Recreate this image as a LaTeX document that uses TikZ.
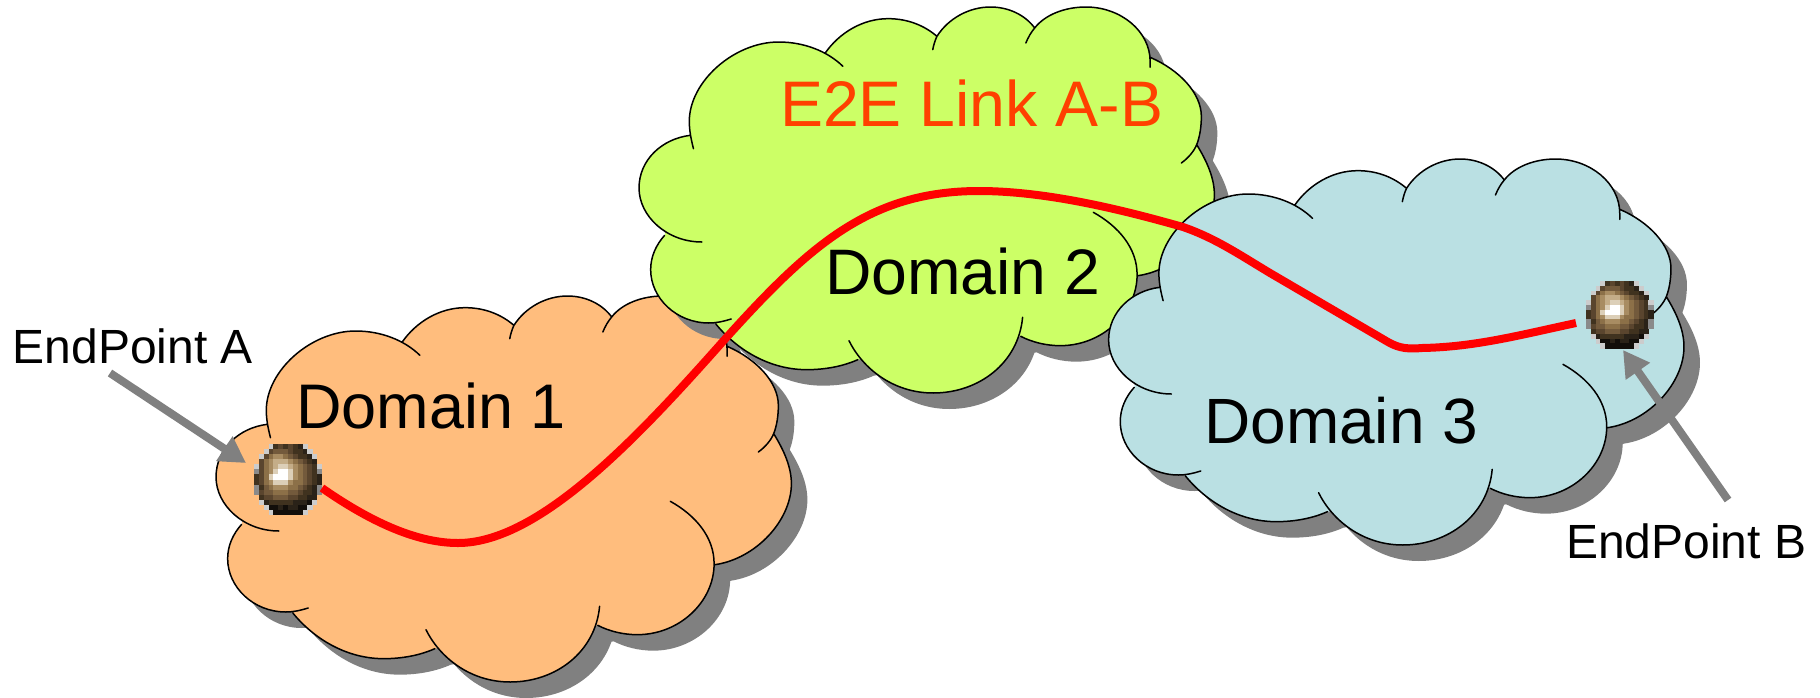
\documentclass[tikz,border=0pt]{standalone}
\usepackage{fontspec}
\setmainfont{Liberation Sans}
\usetikzlibrary{arrows.meta}
\definecolor{orangecloud}{HTML}{FFBD7D}
\definecolor{greencloud}{HTML}{CCFF66}
\definecolor{bluecloud}{HTML}{BAE0E3}
\definecolor{shadowgrey}{HTML}{808080}
\definecolor{linktext}{HTML}{FF4000}
\definecolor{ballc0}{HTML}{120E0A}
\definecolor{ballc1}{HTML}{2A2218}
\definecolor{ballc2}{HTML}{40321F}
\definecolor{ballc3}{HTML}{5A452E}
\definecolor{ballc4}{HTML}{735A3C}
\definecolor{ballc5}{HTML}{8C7048}
\definecolor{ballc6}{HTML}{A88C62}
\definecolor{ballc7}{HTML}{C4AD88}
\definecolor{ballc8}{HTML}{DCCFB8}
\definecolor{ballc9}{HTML}{FFFFFF}
\definecolor{ballcg}{HTML}{CCCCCC}
\definecolor{ballca}{HTML}{8A8A8A}
\newcommand\lobes[1]{%
 (157,452) .. controls (152,425) and (148,398) .. (148,370) .. controls (148,251) and (244,132) .. (340,132) .. controls (395,132) and (445,160) .. (478,205)
 #1 (440,165) .. controls (470,105) and (520,62) .. (575,62) .. controls (620,62) and (655,85) .. (680,115)
 #1 (671,155) .. controls (673,140) and (676,127) .. (680,115) .. controls (705,60) and (750,27) .. (795,27) .. controls (835,27) and (870,52) .. (890,90)
 #1 (871,135) .. controls (876,118) and (882,103) .. (890,90) .. controls (912,50) and (955,27) .. (1000,27) .. controls (1075,27) and (1138,100) .. (1138,190) -- (1138,208)
 #1 (1138,178) .. controls (1200,215) and (1248,285) .. (1248,355) .. controls (1248,385) and (1245,415) .. (1238,440) .. controls (1232,460) and (1220,480) .. (1205,495)
 #1 (1238,440) .. controls (1260,490) and (1276,540) .. (1276,590) .. controls (1276,700) and (1200,815) .. (1112,833)
 #1 (1016,643) .. controls (1070,685) and (1110,750) .. (1110,830) .. controls (1110,945) and (1035,1043) .. (945,1043) .. controls (915,1043) and (885,1033) .. (860,1015)
 #1 (864,958) .. controls (855,1095) and (770,1185) .. (672,1185) .. controls (585,1185) and (520,1110) .. (491,1028)
 #1 (510,1085) .. controls (478,1105) and (440,1115) .. (400,1115) .. controls (320,1115) and (250,1055) .. (205,978)
 #1 (238,963) .. controls (222,970) and (207,975) .. (190,975) .. controls (120,975) and (65,900) .. (65,815) .. controls (65,775) and (77,740) .. (95,712)
 #1 (175,732) .. controls (100,732) and (40,655) .. (40,570) .. controls (40,485) and (90,422) .. (150,412)
}
\newcommand\cusps{(440,165)--(680,115)--(890,90)--(1138,178)--(1238,440)--(1112,833)--(860,1015)--(510,1085)--(205,978)--(95,712)--(150,412)--cycle}
\newcommand\cloudat[3]{%
 \begin{scope}[shift={(#1+16,#2+16)},x=.4655pt,y=-.33333pt]
  \fill[shadowgrey] \lobes{--} -- cycle;
  \fill[shadowgrey] \cusps;
 \end{scope}
 \begin{scope}[shift={(#1,#2)},x=.4655pt,y=-.33333pt]
  \fill[#3] \lobes{--} -- cycle;
  \fill[#3] \cusps;
  \draw[cloudline] \lobes{};
 \end{scope}}
\newcount\bcol
\newcount\brow
\def\ballrow#1{\bcol=0 \ballrowi#1\relax\advance\brow by 1 }
\def\ballrowi#1{\ifx#1\relax\else\ballcell{#1}\advance\bcol by 1 \expandafter\ballrowi\fi}
\def\ballcell#1{\if#1.\else\fill[ballc#1] ({\ballx+\the\bcol*\ballw},{\bally+\the\brow*\ballh}) rectangle ({\ballx+(\the\bcol+1)*\ballw+.3},{\bally+(\the\brow+1)*\ballh+.3});\fi}
\newcommand\ball[4]{%
 \def\ballx{#1}\def\bally{#2}\def\ballw{#3}\def\ballh{#4}\brow=0
 \ballrow{...g232321g...}
 \ballrow{..g34443221g..}
 \ballrow{.g3566543221g.}
 \ballrow{.356777654321.}
 \ballrow{g356788765432g}
 \ballrow{a356899865432a}
 \ballrow{23589998654321}
 \ballrow{23568886554321}
 \ballrow{a245666554321a}
 \ballrow{a344555443221a}
 \ballrow{.233444332211.}
 \ballrow{.g1222221110g.}
 \ballrow{..g00101100g..}
 \ballrow{...g000000g...}}
\tikzset{
 cloudline/.style={draw=black,line width=1.5pt,line join=round,line cap=round},
 linkline/.style={draw=red,line width=8pt},
 pointer/.style={draw=shadowgrey,line width=8pt,-{Triangle[length=26pt,width=28pt]},fill=shadowgrey},
 bigtext/.style={anchor=base west,inner sep=0pt,font=\fontsize{63}{64}\selectfont,text=black},
 smalltext/.style={anchor=base west,inner sep=0pt,font=\fontsize{48}{48}\selectfont,text=black}}
\begin{document}
\begin{tikzpicture}[x=1pt,y=-1pt]
\useasboundingbox (0,0) rectangle (1820,697);
\fill[white] (0,0) rectangle (1820,697);
\cloudat{197.4}{287}{orangecloud}
\cloudat{620.4}{-2}{greencloud}
\cloudat{1090}{150}{bluecloud}
\node[bigtext] (domainA) at (296,428) {Domain 1};
\node[bigtext,font=\fontsize{64.3}{65}\selectfont] (domainB) at (825,294) {Domain 2};
\node[bigtext,font=\fontsize{64}{65}\selectfont] (domainC) at (1204,443) {Domain 3};
\node[bigtext,text=linktext,font=\fontsize{64.4}{65}\selectfont] (linklabel) at (780,126) {E2E Link A-B};
\node[smalltext] (endA) at (12.5,363) {EndPoint A};
\node[smalltext] (endB) at (1566,558) {EndPoint B};
\coordinate (fromA) at (110,373);
\coordinate (tipA) at (246,463);
\coordinate (fromB) at (1728,500);
\coordinate (tipB) at (1623,350);
\coordinate (linkA) at (322,488);
\coordinate (linkB) at (1576,323);
\draw[pointer] (fromA) -- (tipA);
\draw[pointer] (fromB) -- (tipB);
\ball{254}{444}{4.86}{5.07}
\ball{1586}{281}{4.8}{4.8}
\draw[linkline] (linkA) .. controls (375,525) and (420,543) .. (458,543)
 .. controls (540,543) and (640,435) .. (726,338)
 .. controls (810,245) and (870,191) .. (979,191)
 .. controls (1050,191) and (1130,212) .. (1183,227)
 .. controls (1215,238) and (1240,255) .. (1270,273)
 -- (1388,342) .. controls (1400,349) and (1410,349) .. (1422,348)
 .. controls (1475,347) and (1520,335) .. (linkB);
\end{tikzpicture}
\end{document}
